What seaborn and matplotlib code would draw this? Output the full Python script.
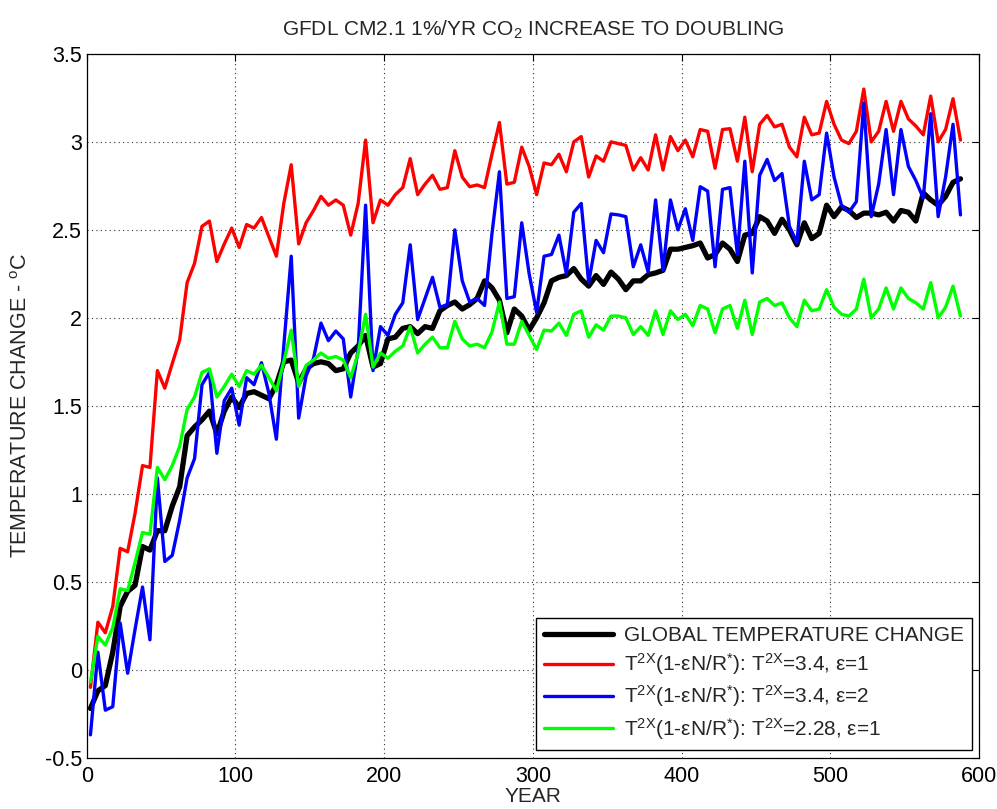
import numpy as np
import matplotlib
matplotlib.use("Agg")
import matplotlib.pyplot as plt
import seaborn as sns
from matplotlib.ticker import FuncFormatter

# ---- data ----
years = np.arange(2.5, 590, 5.0)  # 5-year mean centres

global_temp = [
    -0.22, -0.12, -0.09, 0.10, 0.36, 0.445, 0.48, 0.70, 0.68, 0.79,
    0.79, 0.93, 1.04, 1.33, 1.38, 1.42, 1.47, 1.34, 1.47, 1.55,
    1.49, 1.57, 1.58, 1.56, 1.54, 1.62, 1.75, 1.76, 1.63, 1.71,
    1.74, 1.75, 1.74, 1.70, 1.71, 1.80, 1.84, 1.90, 1.72, 1.74,
    1.88, 1.89, 1.94, 1.95, 1.91, 1.95, 1.94, 2.04, 2.07, 2.09,
    2.05, 2.075, 2.11, 2.21, 2.17, 2.10, 1.915, 2.05, 2.01, 1.93,
    2.00, 2.085, 2.21, 2.23, 2.24, 2.28, 2.22, 2.18, 2.24, 2.19,
    2.26, 2.22, 2.16, 2.21, 2.21, 2.245, 2.255, 2.27, 2.39, 2.39,
    2.40, 2.41, 2.425, 2.34, 2.36, 2.425, 2.39, 2.32, 2.47, 2.48,
    2.575, 2.55, 2.48, 2.56, 2.50, 2.415, 2.54, 2.45, 2.48, 2.64,
    2.575, 2.63, 2.61, 2.57, 2.595, 2.595, 2.585, 2.60, 2.55, 2.61,
    2.60, 2.55, 2.71, 2.67, 2.64, 2.69, 2.77, 2.79,
]

red_34_e1 = [
    -0.10, 0.27, 0.21, 0.36, 0.69, 0.67, 0.89, 1.16, 1.15, 1.70,
    1.60, 1.74, 1.875, 2.20, 2.31, 2.52, 2.55, 2.32, 2.42, 2.51,
    2.40, 2.53, 2.51, 2.57, 2.46, 2.35, 2.65, 2.87, 2.42, 2.54,
    2.61, 2.69, 2.64, 2.67, 2.64, 2.47, 2.65, 3.01, 2.54, 2.67,
    2.64, 2.70, 2.74, 2.905, 2.70, 2.76, 2.81, 2.73, 2.74, 2.95,
    2.80, 2.745, 2.755, 2.74, 2.93, 3.11, 2.76, 2.77, 2.97, 2.86,
    2.70, 2.88, 2.87, 2.93, 2.83, 3.00, 3.03, 2.80, 2.92, 2.89,
    3.00, 2.99, 2.98, 2.84, 2.91, 2.84, 3.04, 2.84, 3.03, 2.95,
    3.01, 2.915, 3.07, 3.06, 2.85, 3.07, 3.075, 2.89, 3.14, 2.83,
    3.10, 3.15, 3.085, 3.10, 2.97, 2.915, 3.14, 3.04, 3.05, 3.23,
    3.10, 3.01, 2.99, 3.06, 3.30, 3.00, 3.06, 3.23, 3.06, 3.23,
    3.13, 3.09, 3.04, 3.26, 3.00, 3.07, 3.245, 3.01,
]

blue_34_e2 = [
    -0.37, 0.10, -0.23, -0.21, 0.265, -0.02, 0.23, 0.47, 0.17, 1.09,
    0.615, 0.65, 0.85, 1.09, 1.20, 1.62, 1.69, 1.23, 1.53, 1.60,
    1.39, 1.66, 1.62, 1.745, 1.57, 1.31, 1.84, 2.35, 1.43, 1.67,
    1.77, 1.97, 1.87, 1.925, 1.88, 1.55, 1.82, 2.64, 1.70, 1.95,
    1.90, 2.02, 2.085, 2.415, 1.99, 2.11, 2.23, 2.06, 2.075, 2.50,
    2.21, 2.09, 2.11, 2.07, 2.48, 2.83, 2.11, 2.12, 2.54, 2.25,
    2.03, 2.35, 2.36, 2.47, 2.25, 2.60, 2.65, 2.20, 2.44, 2.37,
    2.59, 2.585, 2.575, 2.29, 2.415, 2.26, 2.67, 2.27, 2.67, 2.50,
    2.62, 2.44, 2.745, 2.72, 2.29, 2.73, 2.74, 2.36, 2.89, 2.255,
    2.81, 2.90, 2.78, 2.82, 2.52, 2.425, 2.89, 2.67, 2.70, 3.05,
    2.80, 2.64, 2.60, 2.66, 3.22, 2.575, 2.76, 3.07, 2.70, 3.07,
    2.86, 2.78, 2.68, 3.16, 2.575, 2.80, 3.10, 2.585,
]

green_228_e1 = [
    -0.07, 0.19, 0.14, 0.24, 0.46, 0.45, 0.61, 0.78, 0.77, 1.15,
    1.08, 1.16, 1.27, 1.48, 1.55, 1.69, 1.71, 1.55, 1.61, 1.68,
    1.61, 1.70, 1.68, 1.73, 1.66, 1.585, 1.75, 1.93, 1.61, 1.73,
    1.76, 1.80, 1.77, 1.78, 1.76, 1.66, 1.80, 2.02, 1.72, 1.80,
    1.77, 1.81, 1.84, 1.95, 1.80, 1.85, 1.89, 1.83, 1.83, 1.98,
    1.88, 1.84, 1.85, 1.83, 1.92, 2.09, 1.85, 1.85, 1.98, 1.90,
    1.82, 1.93, 1.925, 1.97, 1.90, 2.02, 2.04, 1.89, 1.96, 1.93,
    2.01, 2.01, 2.00, 1.905, 1.95, 1.90, 2.04, 1.905, 2.04, 1.99,
    2.02, 1.955, 2.07, 2.05, 1.915, 2.05, 2.07, 1.94, 2.10, 1.905,
    2.09, 2.11, 2.07, 2.085, 2.00, 1.95, 2.10, 2.04, 2.05, 2.16,
    2.06, 2.02, 2.01, 2.05, 2.22, 2.00, 2.05, 2.17, 2.05, 2.17,
    2.11, 2.085, 2.05, 2.20, 2.00, 2.06, 2.18, 2.01,
]

labels = [
    "GLOBAL TEMPERATURE CHANGE",
    r"T$^{\mathrm{2X}}$(1-εN/R$^{*}$): T$^{\mathrm{2X}}$=3.4, ε=1",
    r"T$^{\mathrm{2X}}$(1-εN/R$^{*}$): T$^{\mathrm{2X}}$=3.4, ε=2",
    r"T$^{\mathrm{2X}}$(1-εN/R$^{*}$): T$^{\mathrm{2X}}$=2.28, ε=1",
]
x_ticks = [0, 100, 200, 300, 400, 500, 600]
y_ticks = [-0.5, 0, 0.5, 1, 1.5, 2, 2.5, 3, 3.5]

# ---- style ----
sns.set_theme(style="white")
plt.rcParams["font.family"] = ["Liberation Sans", "DejaVu Sans"]
plt.rcParams["mathtext.fontset"] = "custom"
plt.rcParams["mathtext.rm"] = "Liberation Sans"
plt.rcParams["mathtext.it"] = "Liberation Sans:italic"
plt.rcParams["mathtext.bf"] = "Liberation Sans:bold"

fig = plt.figure(figsize=(9.97, 8.09), dpi=100)
ax = fig.add_axes([0.087, 0.0634, 0.895, 0.870])

series = [global_temp, red_34_e1, blue_34_e2, green_228_e1]
colors = ["#000000", "#FF0000", "#0000FF", "#00FF00"]
widths = [3.8, 2.4, 2.4, 2.4]
for vals, lab, col, lw in zip(series, labels, colors, widths):
    sns.lineplot(x=years, y=vals, color=col, linewidth=lw, label=lab,
                 ax=ax, sort=False, estimator=None)

ax.set_xlim(0, 600)
ax.set_ylim(-0.5, 3.5)
ax.set_xticks(x_ticks)
ax.set_yticks(y_ticks)
fmt = FuncFormatter(lambda v, p: "%g" % v)
ax.xaxis.set_major_formatter(fmt)
ax.yaxis.set_major_formatter(fmt)
ax.tick_params(axis="both", direction="in", length=5, width=0.8,
               top=True, right=True, labelsize=15.5, colors="black")
ax.tick_params(axis="x", pad=6)
ax.tick_params(axis="y", pad=3.5)
ax.grid(True, linestyle=(0, (1, 3)), color="#333333", linewidth=0.8)
ax.set_axisbelow(True)
for sp in ax.spines.values():
    sp.set_visible(True)
    sp.set_color("black")
    sp.set_linewidth(0.9)

ax.set_title(r"GFDL CM2.1 1%/YR CO$_{\mathrm{2}}$ INCREASE TO DOUBLING",
             fontsize=15, pad=13)
ax.set_xlabel("YEAR", fontsize=15, labelpad=0)
ax.set_ylabel(r"TEMPERATURE CHANGE - $^{\mathrm{o}}$C", fontsize=15.5, labelpad=9)

leg = ax.legend(loc="lower right", bbox_to_anchor=(0.992, 0.011),
                borderaxespad=0, fontsize=15, frameon=True, fancybox=False,
                handlelength=3.3, labelspacing=0.3, borderpad=0.4,
                handletextpad=0.5)
leg.get_frame().set_edgecolor("black")
leg.get_frame().set_linewidth(1.0)
leg.get_frame().set_alpha(1)

fig.savefig("out.png", dpi=100)
